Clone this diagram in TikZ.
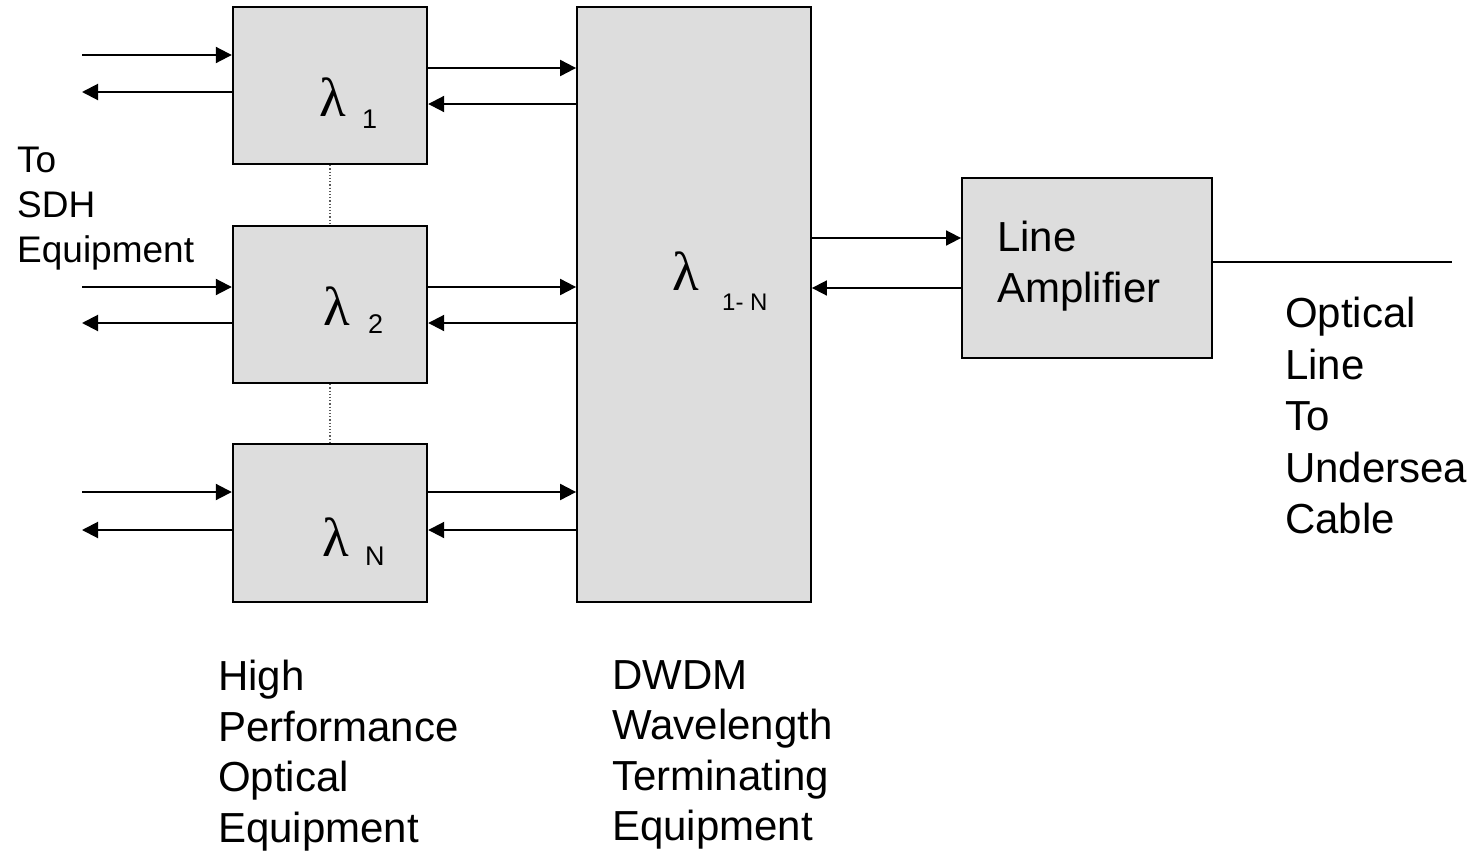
\documentclass[tikz,border=0pt]{standalone}
\usepackage{fontspec}
\setmainfont{Liberation Sans}
\newfontfamily\serifgreek{Liberation Serif}
\usetikzlibrary{arrows.meta}
\definecolor{boxgray}{HTML}{DDDDDD}
\begin{document}
\begin{tikzpicture}[x=1pt,y=-1pt,
  box/.style={draw=black, line width=2.4pt, fill=boxgray, inner sep=0pt},
  arr/.style={line width=2pt, -{Triangle[length=16pt,width=16pt]}},
  thinarr/.style={line width=1.7pt, -{Triangle[length=15pt,width=15pt]}},
  lab/.style={anchor=north west, inner sep=0pt, align=left},
  bigtext/.style={font=\fontsize{42}{50.5}\selectfont},
  lam/.style={anchor=base west, inner sep=0pt, font=\serifgreek\fontsize{55}{55}\selectfont},
  sub/.style={anchor=base west, inner sep=0pt, font=\fontsize{27}{27}\selectfont},
  dots/.style={draw=black!65, line width=1.2pt, dotted}]
\useasboundingbox (0,0) rectangle (1478,854);

% boxes
\node[box, minimum width=194pt, minimum height=157pt] (l1) at (330,85.5) {};
\node[box, minimum width=194pt, minimum height=157pt] (l2) at (330,304.5) {};
\node[box, minimum width=194pt, minimum height=158pt] (lN) at (330,523) {};
\node[box, line width=1.8pt, minimum width=234pt, minimum height=595pt] (big) at (694,304.5) {};
\node[box, line width=1.8pt, minimum width=250pt, minimum height=180pt] (amp) at (1087,268) {};

% lambda labels
\node[lam] (lam1) at (319,116) {λ};
\node[sub] (sub1) at (362,128) {1};
\node[lam] (lam2) at (323,325) {λ};
\node[sub] (sub2) at (368,333) {2};
\node[lam] (lamN) at (322,556) {λ};
\node[sub] (subN) at (365,565) {N};
\node[lam] (lamall) at (672,290) {λ};
\node[sub, font=\fontsize{24}{24}\selectfont] (suball) at (722,310) {1- N};

% dotted links
\draw[dots] (l1.south) -- (l2.north);
\draw[dots] (l2.south) -- (lN.north);

% left side connectors
\coordinate (in1) at (82,55);
\coordinate (out1) at (82,92);
\coordinate (in2) at (82,287);
\coordinate (out2) at (82,323);
\coordinate (inN) at (82,492);
\coordinate (outN) at (82,530);
\draw[arr] (in1) -- (l1.west |- in1);
\draw[arr] (l1.west |- out1) -- (out1);
\draw[arr] (in2) -- (l2.west |- in2);
\draw[arr] (l2.west |- out2) -- (out2);
\draw[arr] (inN) -- (lN.west |- inN);
\draw[arr] (lN.west |- outN) -- (outN);

% boxes to DWDM
\draw[arr] (l1.east |- 0,68) -- (big.west |- 0,68);
\draw[arr] (big.west |- 0,104) -- (l1.east |- 0,104);
\draw[arr] (l2.east |- 0,287) -- (big.west |- 0,287);
\draw[arr] (big.west |- 0,323) -- (l2.east |- 0,323);
\draw[arr] (lN.east |- 0,492) -- (big.west |- 0,492);
\draw[arr] (big.west |- 0,530) -- (lN.east |- 0,530);

% DWDM to amplifier
\draw[thinarr] (big.east |- 0,238) -- (amp.west |- 0,238);
\draw[thinarr] (amp.west |- 0,288) -- (big.east |- 0,288);

% cable
\coordinate (cable) at (1452,262);
\draw[line width=1.6pt] (amp.east |- cable) -- (cable);

% texts
\node[lab, font=\fontsize{37}{45}\selectfont] (sdh) at (17,147) {To\\SDH\\Equipment};
\node[lab, bigtext] (hpoe) at (218,660) {High\\Performance\\Optical\\Equipment};
\node[lab, bigtext] (dwdm) at (612,660) {DWDM\\Wavelength\\Terminating\\Equipment};
\node[lab, font=\fontsize{42}{51}\selectfont] (amplab) at (997,221) {Line\\Amplifier};
\node[lab, font=\fontsize{42}{51.5}\selectfont] (optical) at (1285,297) {Optical\\Line\\To\\Undersea\\Cable};
\end{tikzpicture}
\end{document}
